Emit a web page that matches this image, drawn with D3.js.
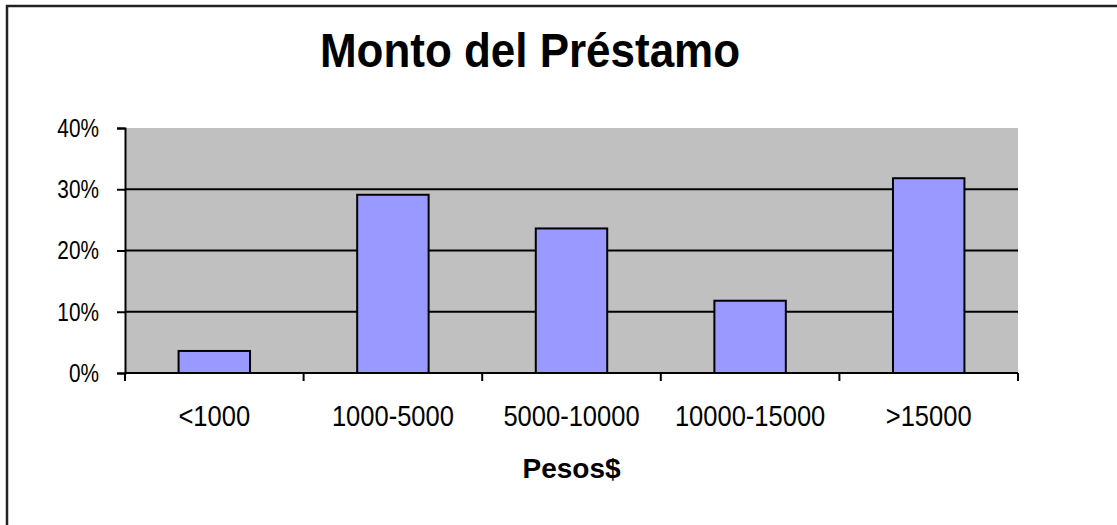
<!DOCTYPE html>
<html>
<head>
<meta charset="utf-8">
<script src="https://cdn.jsdelivr.net/npm/d3@7"></script>
<style>
  body { margin: 0; background: #fff; }
  svg { display: block; font-family: "Liberation Sans", Arial, sans-serif; }
</style>
</head>
<body>
<svg id="chart" width="1117" height="525"></svg>
<script>
const categories = ["<1000", "1000-5000", "5000-10000", "10000-15000", ">15000"];
const values = [0.036, 0.291, 0.236, 0.118, 0.318];
const yTicks = [0, 0.1, 0.2, 0.3, 0.4];
const gridTicks = [0.1, 0.2, 0.3];
const titleText = "Monto del Préstamo";
const xTitle = "Pesos$";

const svg = d3.select("#chart");
const plot = { left: 125, right: 1018, top: 128, bottom: 373 };

// marco exterior (recortado a la derecha y abajo)
svg.append("rect")
    .attr("x", 7).attr("y", 6)
    .attr("width", 1200).attr("height", 600)
    .attr("fill", "none")
    .attr("stroke", "#222")
    .attr("stroke-width", 2.5);

const x = d3.scaleBand()
    .domain(categories)
    .range([plot.left, plot.right])
    .paddingInner(0.6)
    .paddingOuter(0.3);

const xEdge = d3.scaleLinear()
    .domain([0, categories.length])
    .range([plot.left, plot.right]);

const y = d3.scaleLinear()
    .domain([0, 0.4])
    .range([plot.bottom, plot.top]);

// fondo del área de trazado
svg.append("rect")
    .attr("x", plot.left).attr("y", plot.top)
    .attr("width", plot.right - plot.left)
    .attr("height", plot.bottom - plot.top)
    .attr("fill", "#c0c0c0");

// líneas de división
svg.selectAll(".grid")
    .data(gridTicks)
    .join("line")
    .attr("class", "grid")
    .attr("x1", plot.left).attr("x2", plot.right)
    .attr("y1", d => y(d)).attr("y2", d => y(d))
    .attr("stroke", "#000")
    .attr("stroke-width", 2);

// barras
svg.selectAll(".bar")
    .data(values)
    .join("rect")
    .attr("class", "bar")
    .attr("x", (d, i) => x(categories[i]))
    .attr("y", d => y(d))
    .attr("width", x.bandwidth())
    .attr("height", d => y(0) - y(d))
    .attr("fill", "#9999ff")
    .attr("stroke", "#000")
    .attr("stroke-width", 2);

// eje Y
const yAxis = svg.append("g")
    .attr("transform", `translate(${plot.left},0)`)
    .call(d3.axisLeft(y).tickValues(yTicks).tickFormat(d3.format(".0%")).tickSize(8).tickPadding(18));
yAxis.select(".domain").attr("stroke-width", 2);
yAxis.selectAll(".tick line").attr("stroke-width", 2);
yAxis.selectAll("text")
    .attr("font-size", 26)
    .attr("fill", "#000")
    .each(function() {
        const w = this.getComputedTextLength();
        d3.select(this).attr("textLength", w * 0.8).attr("lengthAdjust", "spacingAndGlyphs");
    });

// eje X
const xAxis = svg.append("g")
    .attr("transform", `translate(0,${plot.bottom})`);
xAxis.append("line")
    .attr("x1", plot.left).attr("x2", plot.right)
    .attr("stroke", "#000").attr("stroke-width", 2);
xAxis.selectAll(".xtick")
    .data(d3.range(categories.length + 1))
    .join("line")
    .attr("class", "xtick")
    .attr("x1", d => xEdge(d)).attr("x2", d => xEdge(d))
    .attr("y1", 0).attr("y2", 8)
    .attr("stroke", "#000").attr("stroke-width", 2);
xAxis.selectAll(".xlabel")
    .data(categories)
    .join("text")
    .attr("class", "xlabel")
    .attr("x", d => x(d) + x.bandwidth() / 2)
    .attr("y", 53)
    .attr("text-anchor", "middle")
    .attr("font-size", 29)
    .text(d => d)
    .each(function() {
        const w = this.getComputedTextLength();
        d3.select(this).attr("textLength", w * 0.88).attr("lengthAdjust", "spacingAndGlyphs");
    });

// título del eje X
svg.append("text")
    .attr("x", (plot.left + plot.right) / 2)
    .attr("y", 478)
    .attr("text-anchor", "middle")
    .attr("font-size", 28)
    .attr("font-weight", "bold")
    .text(xTitle);

// título
svg.append("text")
    .attr("x", 530)
    .attr("y", 67)
    .attr("text-anchor", "middle")
    .attr("font-size", 48)
    .attr("font-weight", "bold")
    .attr("textLength", 420)
    .attr("lengthAdjust", "spacingAndGlyphs")
    .text(titleText);
</script>
</body>
</html>
